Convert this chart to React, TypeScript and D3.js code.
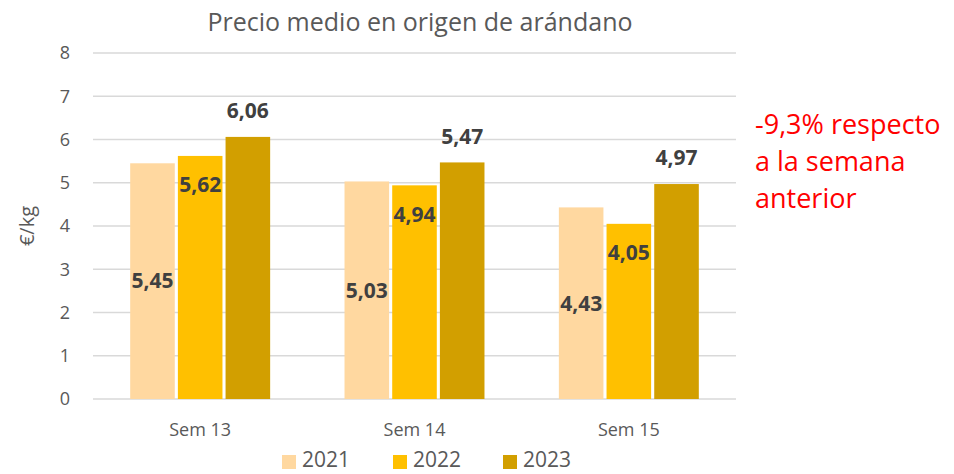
import React, { useRef, useEffect } from "react";
import * as d3 from "d3";

// chart values
const weeks = ["Sem 13", "Sem 14", "Sem 15"];
const years = ["2021", "2022", "2023"];
const values2021 = [5.45, 5.03, 4.43];
const values2022 = [5.62, 4.94, 4.05];
const values2023 = [6.06, 5.47, 4.97];
const yTicks = [0, 1, 2, 3, 4, 5, 6, 7, 8];
const note = ["-9,3% respecto", "a la semana", "anterior"];

const colors = ["#FFD8A0", "#FFC000", "#D29F00"];
const FONT = "'Open Sans', 'Liberation Sans', sans-serif";

const App = () => {
  const svgRef = useRef<SVGSVGElement>(null);

  useEffect(() => {
    const svg = d3.select(svgRef.current);
    svg.selectAll("*").remove();

    const series = [values2021, values2022, values2023];
    const margin = { top: 53, right: 218, bottom: 75, left: 93 };
    const width = 954 - margin.left - margin.right;
    const height = 474 - margin.top - margin.bottom;

    const g = svg.append("g").attr("transform", `translate(${margin.left},${margin.top})`);

    // scales
    const x = d3.scaleBand().domain(weeks).range([0, width]).paddingInner(0.347).paddingOuter(0.1735);
    const xi = d3.scaleBand().domain(years).range([0, x.bandwidth()]).paddingInner(0.065);
    const y = d3.scaleLinear().domain([0, 8]).range([height, 0]);

    // gridlines
    g.selectAll("line.grid")
      .data(yTicks)
      .enter()
      .append("line")
      .attr("x1", 0)
      .attr("x2", width)
      .attr("y1", d => y(d))
      .attr("y2", d => y(d))
      .attr("stroke", "#D9D9D9")
      .attr("stroke-width", 1.5);

    // y axis labels
    g.selectAll("text.ytick")
      .data(yTicks)
      .enter()
      .append("text")
      .attr("x", -23)
      .attr("y", d => y(d))
      .attr("dy", "0.35em")
      .attr("text-anchor", "end")
      .attr("font-size", 18)
      .attr("fill", "#595959")
      .text(d => d);

    // x axis labels
    g.selectAll("text.xtick")
      .data(weeks)
      .enter()
      .append("text")
      .attr("x", d => (x(d) as number) + x.bandwidth() / 2)
      .attr("y", height + 31)
      .attr("dy", "0.35em")
      .attr("text-anchor", "middle")
      .attr("font-size", 18)
      .attr("fill", "#595959")
      .text(d => d);

    // bars
    const groups = g.selectAll("g.week")
      .data(weeks)
      .enter()
      .append("g")
      .attr("transform", d => `translate(${x(d)},0)`);

    years.forEach((yr, si) => {
      groups.append("rect")
        .attr("x", xi(yr) as number)
        .attr("y", (_, i) => y(series[si][i]))
        .attr("width", xi.bandwidth())
        .attr("height", (_, i) => height - y(series[si][i]))
        .attr("fill", colors[si]);
    });

    // data labels: 2021 centered, 2022 inside end, 2023 outside end
    const labelY = (si: number, v: number) => {
      if (si === 0) return y(v / 2);
      if (si === 1) return y(v) + 29;
      return y(v) - 26;
    };
    years.forEach((yr, si) => {
      groups.append("text")
        .attr("x", (xi(yr) as number) + xi.bandwidth() / 2)
        .attr("y", (_, i) => labelY(si, series[si][i]))
        .attr("dy", "0.35em")
        .attr("text-anchor", "middle")
        .attr("font-size", 21)
        .attr("font-weight", "bold")
        .attr("fill", "#404040")
        .text((_, i) => d3.format(".2f")(series[si][i]).replace(".", ","));
    });

    // title
    svg.append("text")
      .attr("x", 420)
      .attr("y", 22)
      .attr("dy", "0.35em")
      .attr("text-anchor", "middle")
      .attr("font-size", 25)
      .attr("fill", "#595959")
      .text("Precio medio en origen de arándano");

    // y axis title
    svg.append("text")
      .attr("transform", `translate(27,${margin.top + height / 2}) rotate(-90)`)
      .attr("dy", "0.35em")
      .attr("text-anchor", "middle")
      .attr("font-size", 20)
      .attr("fill", "#595959")
      .text("€/kg");

    // legend
    const legendX = [282, 393, 503];
    years.forEach((yr, si) => {
      svg.append("rect")
        .attr("x", legendX[si])
        .attr("y", 455)
        .attr("width", 14)
        .attr("height", 14)
        .attr("fill", colors[si]);
      svg.append("text")
        .attr("x", legendX[si] + 20)
        .attr("y", 460)
        .attr("dy", "0.35em")
        .attr("font-size", 21)
        .attr("fill", "#595959")
        .text(yr);
    });

    // annotation
    svg.append("g")
      .selectAll("text")
      .data(note)
      .enter()
      .append("text")
      .attr("x", 755)
      .attr("y", (_, i) => 125 + i * 37)
      .attr("dy", "0.35em")
      .attr("font-size", 27)
      .attr("fill", "#FF0000")
      .text(d => d);
  }, []);

  return (
    <svg
      ref={svgRef}
      width={954}
      height={474}
      style={{ position: "absolute", left: 0, top: 0, fontFamily: FONT, background: "#fff" }}
    />
  );
};

export default App;
